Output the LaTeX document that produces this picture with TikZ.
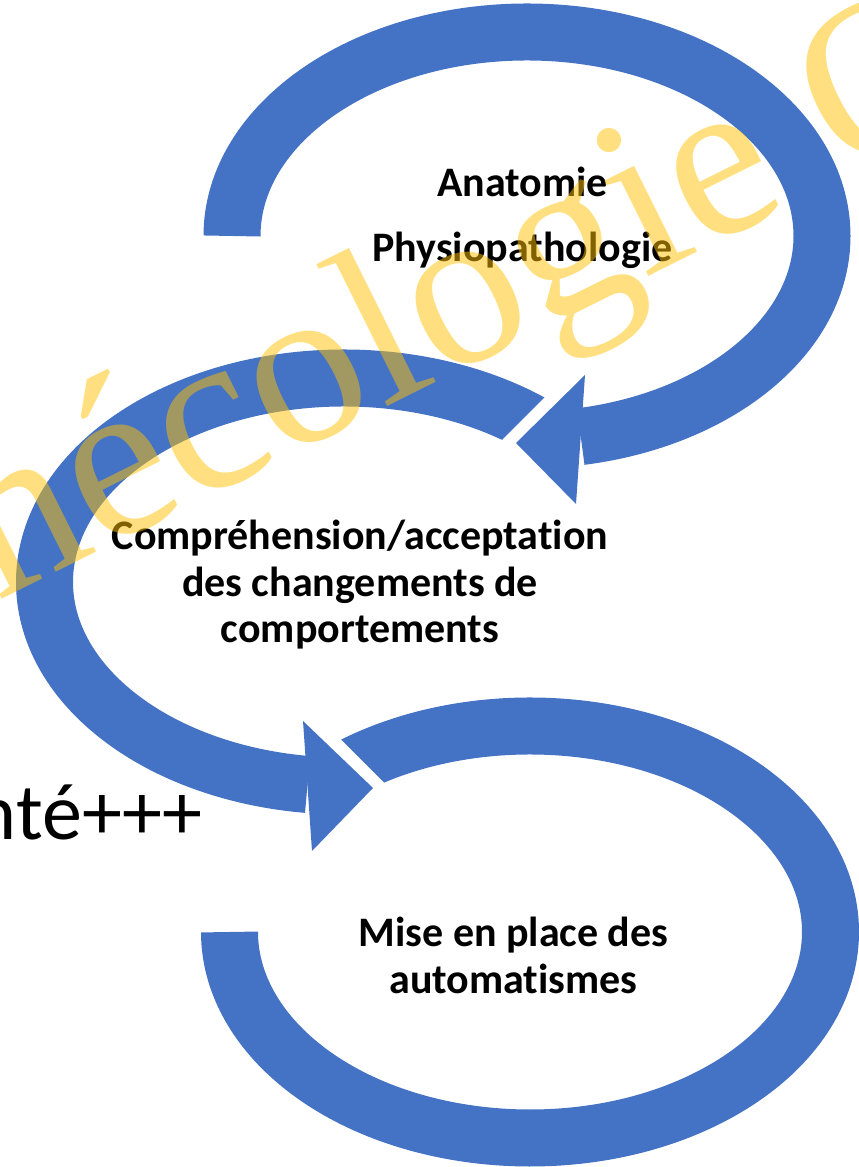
\documentclass[tikz,border=0pt]{standalone}
\usepackage{fontspec}
\setmainfont{Carlito}[Ligatures=NoCommon]
\newfontfamily\markfont{Liberation Serif}
\definecolor{ringblue}{HTML}{4472C4}
\definecolor{markgold}{HTML}{FFC000}

\begin{document}
\begin{tikzpicture}[x=0.75pt, y=0.75pt,
  ring/.style={draw=ringblue, line width=42.75pt},
  head/.style={fill=ringblue},
  lbl/.style={font=\bfseries\fontsize{31.5}{35}\selectfont, anchor=base, inner sep=0pt}]
\useasboundingbox (0,0) rectangle (858,1167);

% Top arrow
\draw[ring] (232,931) arc[start angle=180, end angle=-79.5, x radius=295, y radius=204];
\fill[head] (516,724) -- (585,792) -- (576,663) -- cycle;

% Middle arrow, cut along the first head
\begin{scope}
\clip (735,1180) -- (735,960) -- (427.5,652.5) -- (427.5,-20) -- (-20,-20) -- (-20,1180) -- cycle;
\draw[ring] ({344+299.5*cos(40)},{585+204*sin(40)}) arc[start angle=40, end angle=263, x radius=299.5, y radius=204];
\end{scope}
\fill[head] (373,379) -- (303,446) -- (312,316) -- cycle;

% Bottom arrow, cut along the second head
\begin{scope}
\clip (157,611.5) -- (157,1180) -- (880,1180) -- (880,-20) -- (-20,-20) -- (-20,299.9) -- (468.6,299.9) -- cycle;
\draw[ring] ({530+300.5*cos(130)},{235+206*sin(130)}) arc[start angle=130, end angle=-180, x radius=300.5, y radius=206];
\end{scope}

% Labels
\node[lbl] (anat) at (522.5,970) {Anatomie};
\node[lbl] (physio) at (522.5,905.3) {Physiopathologie};
\node[lbl] (compr) at (360,617) {Compréhension/acceptation};
\node[lbl] (chang) at (360,570.3) {des changements de};
\node[lbl] (comport) at (360,524) {comportements};
\node[lbl] (mise) at (513.5,220.3) {Mise en place des};
\node[lbl] (auto) at (513.5,173.7) {automatismes};

\node[anchor=base east, inner sep=0pt, font=\fontsize{60}{60}\selectfont] (plus) at (203,327) {nté+++};

% Watermark
\node[anchor=base west, inner sep=0pt, rotate=26.5, text=markgold, opacity=0.5,
  font=\markfont\fontsize{171.3}{171.3}\selectfont] (mark) at (-2.4,565.5) {nécologie O};
\end{tikzpicture}
\end{document}
